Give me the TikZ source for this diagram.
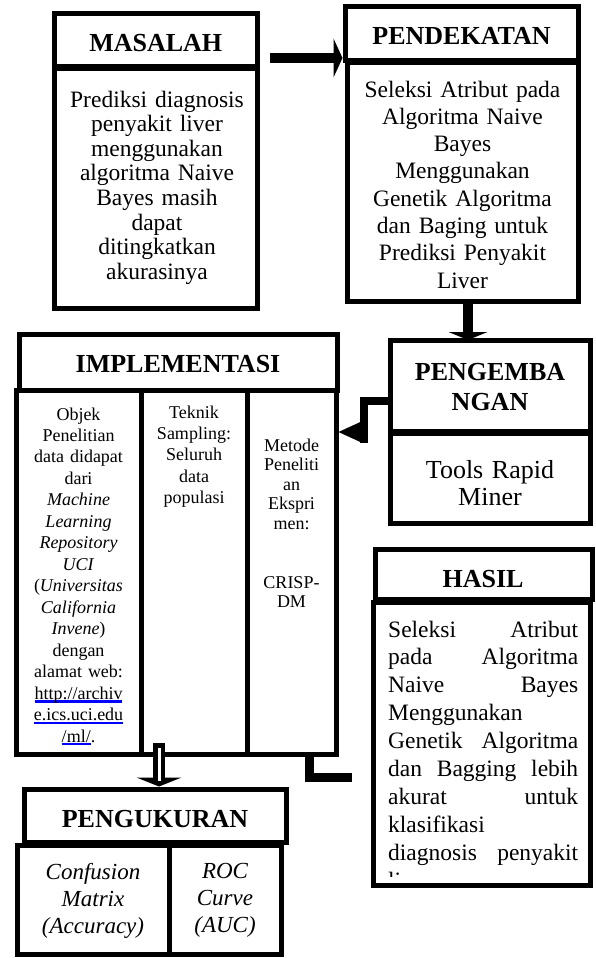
\documentclass[tikz,border=0pt]{standalone}
\usepackage{fontspec}
\setmainfont{Liberation Serif}
\usetikzlibrary{arrows.meta}
\definecolor{linkblue}{RGB}{0,0,255}
\newsavebox\weblinkbox
\newcommand\weblink[1]{\leavevmode\sbox\weblinkbox{#1}\rlap{\color{linkblue}\rule[-3.4pt]{\wd\weblinkbox}{2.2pt}}{\color{linkblue}\usebox\weblinkbox}}

\begin{document}
\begin{tikzpicture}[x=1pt, y=-1pt,
  panel/.style={draw=black, line width=5pt, fill=white, inner sep=0pt, outer sep=0pt},
  headtext/.style={font=\fontsize{26}{30}\selectfont\bfseries, align=center, inner sep=0pt, anchor=base},
  bodytext/.style={font=\fontsize{23.5}{27.3}\selectfont, align=center, inner sep=0pt, anchor=base},
  celltext/.style={font=\fontsize{18}{21.47}\selectfont, align=center, inner sep=0pt, anchor=base},
  pipe/.style={line width=#1, line cap=butt, line join=miter},
]
\useasboundingbox (0,0) rectangle (595,958);
\fill[white] (0,0) rectangle (595,958);

% ---- panels ----
\node[panel, minimum width=202.5pt, minimum height=53pt]  (masT) at (155.75,40.5) {};
\node[panel, minimum width=202.5pt, minimum height=239pt] (masB) at (155.75,188.5) {};
\node[panel, minimum width=233pt, minimum height=54pt]    (penT) at (461.5,34) {};
\node[panel, minimum width=231pt, minimum height=238pt]   (penB) at (462.5,182) {};
\node[panel, minimum width=200pt, minimum height=91pt]    (devT) at (490,385.5) {};
\node[panel, minimum width=200pt, minimum height=90pt]    (devB) at (490,478) {};
\node[panel, minimum width=318pt, minimum height=56pt]    (impT) at (178,362) {};
\node[panel, minimum width=125pt, minimum height=364pt]   (impA) at (78.5,572) {};
\node[panel, minimum width=106pt, minimum height=364pt]   (impB) at (194,572) {};
\node[panel, minimum width=89pt,  minimum height=364pt]   (impC) at (291.5,572) {};
\node[panel, minimum width=262pt, minimum height=53pt]    (ukrT) at (155,815.5) {};
\node[panel, minimum width=152pt, minimum height=109pt]   (ukrA) at (93,899.5) {};
\node[panel, minimum width=112pt, minimum height=109pt]   (ukrB) at (225,899.5) {};
\node[panel, minimum width=217pt, minimum height=50pt]    (hslT) at (483.5,574) {};
\node[panel, minimum width=217pt, minimum height=283pt]   (hslB) at (481.5,743.5) {};

% ---- texts ----
\node[headtext, text width=200pt] (masH) at (155.75,52) {MASALAH};
\node[bodytext, font=\fontsize{23.5}{24.6}\selectfont, text width=200pt] (masX) at (157,107)
  {Prediksi diagnosis\\penyakit liver\\menggunakan\\algoritma Naive\\Bayes masih\\dapat\\ditingkatkan\\akurasinya};
\node[headtext, text width=230pt] (penH) at (461.5,45) {PENDEKATAN};
\node[bodytext, text width=228pt] (penX) at (462.5,97)
  {Seleksi Atribut pada\\Algoritma Naive\\Bayes\\Menggunakan\\Genetik Algoritma\\dan Baging untuk\\Prediksi Penyakit\\Liver};
\node[headtext, text width=195pt] (devH) at (490,380) {PENGEMBA\\NGAN};
\node[bodytext, font=\fontsize{26}{27}\selectfont, text width=195pt] (devX) at (490,478) {Tools Rapid\\Miner};
\node[headtext, text width=315pt] (impH) at (178,372) {IMPLEMENTASI};
\node[celltext, text width=120pt] (impAX) at (78.5,420)
  {Objek\\Penelitian\\data didapat\\dari\\\textit{Machine}\\\textit{Learning}\\\textit{Repository}\\\textit{UCI}\\(\textit{Universitas}\\\textit{California}\\\textit{Invene})\\dengan\\alamat web:\\\weblink{http://archiv}\\\weblink{e.ics.uci.edu}\\\weblink{/ml/}.};
\node[celltext, text width=100pt] (impBX) at (194,418) {Teknik\\Sampling:\\Seluruh\\data\\populasi};
\node[celltext, font=\fontsize{18}{19.6}\selectfont, text width=85pt] (impCX) at (291.5,451) {Metode\\Peneliti\\an\\Ekspri\\men:\\\mbox{}\\\mbox{}\\CRISP-\\DM};
\node[headtext, text width=255pt] (ukrH) at (155,827) {PENGUKURAN};
\node[bodytext, font=\fontsize{23}{27}\selectfont\itshape, text width=145pt] (ukrAX) at (93,879) {Confusion\\Matrix\\(Accuracy)};
\node[bodytext, font=\fontsize{23}{27}\selectfont\itshape, text width=105pt] (ukrBX) at (225,878) {ROC\\Curve\\(AUC)};
\node[headtext, text width=210pt] (hslH) at (483,587) {HASIL};
\begin{scope}
  \clip (377,606) rectangle (588,876);
  \node[bodytext, font=\fontsize{23.5}{27.9}\selectfont, align=left, text width=190pt, anchor=base west] (hslX) at (388,637)
    {Seleksi\hfill Atribut\\pada\hfill Algoritma\\Naive\hfill Bayes\\Menggunakan\\Genetik\hfill Algoritma\\dan\hfill Bagging\hfill lebih\\akurat\hfill untuk\\klasifikasi\\diagnosis\hfill penyakit\\liver};
\end{scope}

% ---- connectors ----
\coordinate (a0) at (270,58);
\draw[pipe=10pt, -{Triangle[length=9pt,width=39pt,line width=0pt]}, shorten >=2.5pt] (a0) -- (a0 -| penT.west);

\coordinate (b0) at (468,301);
\draw[pipe=10pt, -{Triangle[length=8pt,width=39pt,line width=0pt]}] (b0) -- (b0 |- devT.north);

\coordinate (c0) at (364,401);
\coordinate (c1) at (364,443);
\coordinate (c2) at (364,432);
\draw[pipe=8pt] (c0 -| devT.west) -- (c0) -- (c1);
\draw[pipe=8pt, -{Triangle[length=24pt,width=22pt,line width=0pt]}, shorten >=2.5pt] (c2) -- (c2 -| impC.east);

\coordinate (d0) at (309,777);
\coordinate (d1) at (352,777);
\draw[pipe=9pt] (d0 |- impC.south) -- (d0) -- (d1);

\coordinate (e0) at (159,743);
\coordinate (e1) at (159,781);
\draw[line width=1pt, -{Triangle[length=9pt,width=45pt,line width=0pt]}, shorten >=2.5pt] (e0) -- (e0 |- ukrT.north);
\draw[pipe=12pt] (e0) -- (e1);
\draw[pipe=3pt, white, shorten <=5pt] (e0) -- (e1);
\end{tikzpicture}
\end{document}
